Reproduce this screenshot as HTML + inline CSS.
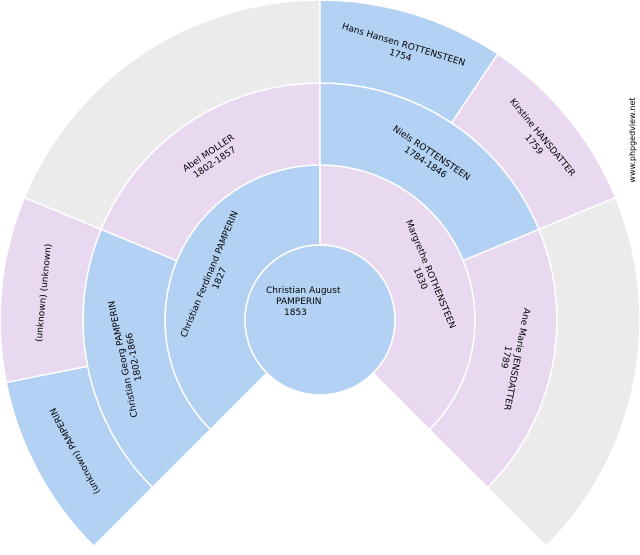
<!DOCTYPE html>
<html><head><meta charset="utf-8"><style>
body{margin:0;background:#fff;width:640px;height:550px;overflow:hidden}
svg text{font-family:"DejaVu Sans","Liberation Sans",sans-serif;font-size:9px;fill:#000}
</style></head><body>
<svg id="s" width="640" height="550" viewBox="0 0 640 550">
<g id="segs"></g>
<circle cx="320" cy="320" r="75" fill="#b3d1f3" stroke="#fff" stroke-width="1.5"/>
<text x="266" y="293">Christian August</text>
<text x="276" y="304">PAMPERIN</text>
<text x="284" y="315">1853</text>

<g text-anchor="middle">
<text transform="rotate(-67.5 320 320)" x="320" y="203">Christian Ferdinand PAMPERIN</text>
<text transform="rotate(-67.5 320 320)" x="320" y="214">1827</text>
<text transform="rotate(67.5 320 320)" x="320" y="203">Margrethe ROTHENSTEEN</text>
<text transform="rotate(67.5 320 320)" x="320" y="214">1830</text>

<text transform="rotate(-101.25 320 320)" x="320" y="122">Christian Georg PAMPERIN</text>
<text transform="rotate(-101.25 320 320)" x="320" y="133">1802-1866</text>
<text transform="rotate(-33.75 320 320)" x="320" y="122">Abel MOLLER</text>
<text transform="rotate(-33.75 320 320)" x="320" y="133">1802-1857</text>
<text transform="rotate(33.75 320 320)" x="320" y="122">Niels ROTTENSTEEN</text>
<text transform="rotate(33.75 320 320)" x="320" y="133">1784-1846</text>
<text transform="rotate(101.25 320 320)" x="320" y="122">Ane Marie JENSDATTER</text>
<text transform="rotate(101.25 320 320)" x="320" y="133">1789</text>

<text transform="rotate(-118.125 320 320)" x="320" y="45">(unknown) PAMPERIN</text>
<text transform="rotate(-84.375 320 320)" x="320" y="45">(unknown) (unknown)</text>
<text transform="rotate(16.875 320 320)" x="320" y="35">Hans Hansen ROTTENSTEEN</text>
<text transform="rotate(16.875 320 320)" x="320" y="46">1754</text>
<text transform="rotate(50.625 320 320)" x="320" y="35">Kirstine HANSDATTER</text>
<text transform="rotate(50.625 320 320)" x="320" y="46">1759</text>
</g>
<text transform="rotate(-90 635 140)" x="635" y="140" text-anchor="middle" style="font-size:8px">www.phpgedview.net</text>
</svg>
<script>
var cx=320,cy=320,NS="http://www.w3.org/2000/svg";
function P(r,t){var a=t*Math.PI/180;return [cx+r*Math.sin(a),cy-r*Math.cos(a)];}
function seg(r1,r2,a1,a2,c){var p1=P(r2,a1),p2=P(r2,a2),p3=P(r1,a2),p4=P(r1,a1);var l=(a2-a1)>180?1:0;
var d="M"+p1+" A"+r2+" "+r2+" 0 "+l+" 1 "+p2+" L"+p3+" A"+r1+" "+r1+" 0 "+l+" 0 "+p4+"Z";
var e=document.createElementNS(NS,"path");e.setAttribute("d",d);e.setAttribute("fill",c);e.setAttribute("stroke","#fff");e.setAttribute("stroke-width","1.5");document.getElementById("segs").appendChild(e);}
var B="#b3d1f3",K="#e8d8f0",G="#ebebeb";
seg(75,155,-135,0,B);seg(75,155,0,135,K);
var r2=[B,K,B,K];for(var i=0;i<4;i++)seg(155,237,-135+i*67.5,-135+(i+1)*67.5,r2[i]);
seg(237,320,-135,-101.25,B);seg(237,320,-101.25,-67.5,K);seg(237,320,-67.5,0,G);
seg(237,320,0,33.75,B);seg(237,320,33.75,67.5,K);seg(237,320,67.5,135,G);
</script>
</body></html>
